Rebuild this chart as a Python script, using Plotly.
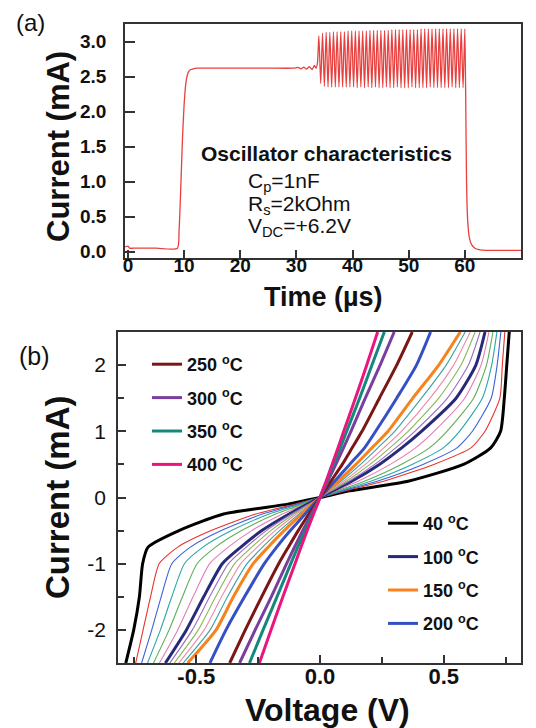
import plotly.graph_objects as go

FONT = "Liberation Sans, Arial, sans-serif"

# ---------------- Panel (a): oscillator current vs time ----------------
t_pre = [-0.5, 0.0, 0.3, 1.0, 5.0, 8.8, 9.1, 9.4, 9.7, 10.0, 10.3, 10.6, 10.9, 11.2, 11.6, 12.2,
         13.0, 15.0, 20.0, 25.0, 29.5, 30.3, 30.8, 31.3, 31.8, 32.3, 32.8, 33.2, 33.5, 33.75]
i_pre = [0.07, 0.08, 0.05, 0.05, 0.05, 0.05, 0.30, 0.90, 1.60, 2.10, 2.40, 2.53, 2.58, 2.60, 2.61, 2.62,
         2.62, 2.62, 2.62, 2.62, 2.62, 2.63, 2.61, 2.635, 2.605, 2.64, 2.60, 2.66, 2.62, 2.70]

osc_peak_t = [34.00, 34.65, 35.30, 35.95, 36.60, 37.25, 37.90, 38.55, 39.20, 39.85, 40.50, 41.15,
              41.80, 42.45, 43.10, 43.75, 44.40, 45.05, 45.70, 46.35, 47.00, 47.65, 48.30, 48.95,
              49.60, 50.25, 50.90, 51.55, 52.20, 52.85, 53.50, 54.15, 54.80, 55.45, 56.10, 56.75,
              57.40, 58.05, 58.70, 59.35, 60.00]
osc_peak_i = [3.08, 3.12, 3.13, 3.13, 3.14, 3.14, 3.14, 3.14, 3.15, 3.15, 3.15, 3.15, 3.15, 3.15,
              3.16, 3.16, 3.16, 3.16, 3.16, 3.16, 3.17, 3.17, 3.17, 3.17, 3.17, 3.17, 3.17, 3.17,
              3.18, 3.18, 3.18, 3.18, 3.18, 3.18, 3.18, 3.18, 3.18, 3.18, 3.18, 3.18, 3.18]
osc_trough_t = [34.33, 34.98, 35.63, 36.28, 36.93, 37.58, 38.23, 38.88, 39.53, 40.18, 40.83, 41.48,
                42.13, 42.78, 43.43, 44.08, 44.73, 45.38, 46.03, 46.68, 47.33, 47.98, 48.63, 49.28,
                49.93, 50.58, 51.23, 51.88, 52.53, 53.18, 53.83, 54.48, 55.13, 55.78, 56.43, 57.08,
                57.73, 58.38, 59.03, 59.68]
osc_trough_i = [2.40, 2.36, 2.35, 2.35, 2.35, 2.35, 2.35, 2.35, 2.35, 2.35, 2.34, 2.35, 2.34, 2.35,
                2.34, 2.35, 2.34, 2.34, 2.35, 2.34, 2.34, 2.35, 2.34, 2.34, 2.34, 2.35, 2.34, 2.34,
                2.34, 2.34, 2.35, 2.34, 2.34, 2.34, 2.34, 2.34, 2.35, 2.34, 2.34, 2.34]

t_post = [60.15, 60.30, 60.50, 60.80, 61.20, 61.80, 62.50, 64.0, 70.0]
i_post = [2.20, 1.00, 0.45, 0.20, 0.10, 0.05, 0.03, 0.02, 0.02]

a_xticks = [0, 10, 20, 30, 40, 50, 60]
a_yticks = [0.0, 0.5, 1.0, 1.5, 2.0, 2.5, 3.0]

# ---------------- Panel (b): I-V curves at several temperatures ----------------
I_pos = [0, 0.1, 0.25, 0.5, 0.75, 1.0, 1.5, 2.0, 2.5]
I_neg = [0, -0.1, -0.25, -0.5, -0.75, -1.0, -1.5, -2.0, -2.5]

temps = [40, 50, 60, 70, 80, 90, 100, 110, 120, 130, 140, 150, 200, 250, 300, 350, 400]

V_pos = {
    40:  [0, 0.12, 0.36, 0.58, 0.69, 0.73, 0.745, 0.755, 0.765],
    50:  [0, 0.10, 0.26, 0.46, 0.61, 0.667, 0.727, 0.737, 0.747],
    60:  [0, 0.09, 0.234, 0.416, 0.554, 0.616, 0.692, 0.716, 0.731],
    70:  [0, 0.08, 0.208, 0.372, 0.498, 0.564, 0.656, 0.694, 0.715],
    80:  [0, 0.07, 0.182, 0.328, 0.442, 0.513, 0.621, 0.673, 0.699],
    90:  [0, 0.06, 0.156, 0.284, 0.386, 0.461, 0.585, 0.651, 0.683],
    100: [0, 0.05, 0.13, 0.24, 0.33, 0.41, 0.55, 0.63, 0.667],
    110: [0, 0.046, 0.119, 0.221, 0.306, 0.383, 0.515, 0.60, 0.647],
    120: [0, 0.042, 0.108, 0.202, 0.282, 0.356, 0.48, 0.57, 0.627],
    130: [0, 0.038, 0.097, 0.183, 0.258, 0.329, 0.445, 0.54, 0.607],
    140: [0, 0.034, 0.086, 0.164, 0.234, 0.302, 0.41, 0.51, 0.587],
    150: [0, 0.03, 0.075, 0.145, 0.21, 0.275, 0.375, 0.48, 0.567],
    200: [0, 0.025, 0.06, 0.12, 0.18, 0.225, 0.31, 0.39, 0.447],
    250: [0, 0.018, 0.045, 0.09, 0.13, 0.17, 0.24, 0.31, 0.373],
    300: [0, 0.013, 0.032, 0.064, 0.095, 0.125, 0.183, 0.243, 0.30],
    350: [0, 0.011, 0.028, 0.055, 0.082, 0.108, 0.16, 0.21, 0.26],
    400: [0, 0.010, 0.025, 0.049, 0.073, 0.096, 0.143, 0.189, 0.233],
}
V_neg = {
    40:  [0, -0.13, -0.39, -0.57, -0.695, -0.717, -0.73, -0.753, -0.785],
    50:  [0, -0.10, -0.26, -0.44, -0.575, -0.65, -0.685, -0.715, -0.745],
    60:  [0, -0.09, -0.233, -0.399, -0.524, -0.599, -0.642, -0.68, -0.721],
    70:  [0, -0.08, -0.206, -0.358, -0.473, -0.548, -0.599, -0.645, -0.697],
    80:  [0, -0.07, -0.179, -0.317, -0.422, -0.497, -0.556, -0.61, -0.673],
    90:  [0, -0.06, -0.152, -0.276, -0.371, -0.446, -0.513, -0.575, -0.649],
    100: [0, -0.05, -0.125, -0.235, -0.32, -0.395, -0.47, -0.54, -0.625],
    110: [0, -0.046, -0.115, -0.217, -0.298, -0.37, -0.446, -0.516, -0.607],
    120: [0, -0.042, -0.105, -0.199, -0.276, -0.345, -0.422, -0.492, -0.589],
    130: [0, -0.038, -0.095, -0.181, -0.254, -0.32, -0.398, -0.468, -0.571],
    140: [0, -0.034, -0.085, -0.163, -0.232, -0.295, -0.374, -0.444, -0.553],
    150: [0, -0.03, -0.075, -0.145, -0.21, -0.27, -0.35, -0.42, -0.535],
    200: [0, -0.025, -0.06, -0.12, -0.175, -0.225, -0.305, -0.38, -0.445],
    250: [0, -0.018, -0.045, -0.088, -0.128, -0.167, -0.236, -0.302, -0.365],
    300: [0, -0.014, -0.035, -0.07, -0.103, -0.135, -0.197, -0.262, -0.325],
    350: [0, -0.012, -0.03, -0.06, -0.09, -0.118, -0.174, -0.23, -0.285],
    400: [0, -0.010, -0.026, -0.052, -0.077, -0.101, -0.15, -0.198, -0.245],
}
colors = {
    40: "#000000", 50: "#e8322c", 60: "#3d62d6", 70: "#2aa6a6", 80: "#5fae55", 90: "#e47bb6",
    100: "#29297a", 110: "#9b6cc0", 120: "#86b95a", 130: "#f08aa8", 140: "#38a3a0",
    150: "#f7821e", 200: "#3550c4", 250: "#7a1616", 300: "#7a3f9e", 350: "#14887a", 400: "#e8167e",
}
thick = {40, 100, 150, 200, 250, 300, 350, 400}
legend_top = [250, 300, 350, 400]
legend_bottom = [40, 100, 150, 200]

b_xticks = [-0.5, 0.0, 0.5]
b_xlabels = ["-0.5", "0.0", "0.5"]
b_yticks = [-2, -1, 0, 1, 2]
b_ylabels = ["-2", "-1", "0", "1", "2"]

# ---------------- Figure ----------------
# The page body has an 8 px margin, so the figure sits at (8, 8) in the 536x728 window.
OFF = 8
W, H = 536 - OFF, 728 - OFF
def px(x):
    return (x - OFF) / W
def py(y):
    return 1 - (y - OFF) / H

fig = go.Figure()

# panel (a) trace
pts = sorted(list(zip(osc_peak_t, osc_peak_i)) + list(zip(osc_trough_t, osc_trough_i)))
t_all = t_pre + [p[0] for p in pts] + t_post
i_all = i_pre + [p[1] for p in pts] + i_post
fig.add_trace(go.Scatter(x=t_all, y=i_all, mode="lines", xaxis="x", yaxis="y",
                         line=dict(color="#e8403f", width=1.3, shape="spline", smoothing=0.6),
                         showlegend=False, hoverinfo="skip"))

# panel (b) traces
for T in temps:
    vx = V_neg[T][::-1][:-1] + V_pos[T]
    iy = I_neg[::-1][:-1] + I_pos
    lab = f"{T} <sup>o</sup>C"
    show = T in legend_top or T in legend_bottom
    fig.add_trace(go.Scatter(
        x=vx, y=iy, mode="lines", xaxis="x2", yaxis="y2", name=lab,
        line=dict(color=colors[T], width=3.0 if T in thick else 1.1, shape="spline", smoothing=0.6),
        showlegend=show, legend=("legend" if T in legend_top else "legend2"),
        legendgroup=str(T), hoverinfo="skip"))

axis_common = dict(showline=True, linecolor="#333333", linewidth=1.5, mirror=True,
                   ticks="inside", tickcolor="#333333", tickwidth=1.5, showgrid=False,
                   zeroline=False, automargin=False)

legend_font = dict(size=18, family=FONT, weight="bold", color="#111111")

fig.update_layout(
    width=W, height=H, margin=dict(l=0, r=0, t=0, b=0, autoexpand=False),
    paper_bgcolor="white", plot_bgcolor="white",
    font=dict(family=FONT, color="#111111"),
    xaxis=dict(domain=[px(125), px(521)], range=[-0.53, 70], anchor="y",
               tickvals=a_xticks, ticklen=8, ticklabelstandoff=-11,
               tickfont=dict(size=19, family=FONT, weight="bold"), **axis_common),
    yaxis=dict(domain=[py(258), py(24)], range=[-0.09, 3.25], anchor="x",
               tickvals=a_yticks, tickformat=".1f", ticklen=10, ticklabelstandoff=13,
               tickfont=dict(size=19, family=FONT, weight="bold"), **axis_common),
    xaxis2=dict(domain=[px(118), px(521)], range=[-0.8165, 0.8125], anchor="y2",
                tickvals=b_xticks, ticktext=b_xlabels, ticklen=8, ticklabelstandoff=-7,
                minor=dict(dtick=0.25, ticks="inside", ticklen=6, tickcolor="#333333", tickwidth=1.5),
                tickfont=dict(size=22, family=FONT, weight="bold"), **axis_common),
    yaxis2=dict(domain=[py(663), py(332)], range=[-2.5, 2.5], anchor="x2",
                tickvals=b_yticks, ticktext=b_ylabels, ticklen=8, ticklabelstandoff=6,
                minor=dict(dtick=0.5, ticks="inside", ticklen=6, tickcolor="#333333", tickwidth=1.5),
                tickfont=dict(size=21, family=FONT), **axis_common),
    legend=dict(x=px(147), y=py(346), xanchor="left", yanchor="top", bgcolor="rgba(0,0,0,0)",
                font=legend_font, tracegroupgap=7, traceorder="grouped"),
    legend2=dict(x=px(383), y=py(505), xanchor="left", yanchor="top", bgcolor="rgba(0,0,0,0)",
                 font=legend_font, tracegroupgap=7, traceorder="grouped"),
)

ann = []
def label(x, y, text, size, bold=False, angle=0, xanchor="center"):
    ann.append(dict(x=px(x), y=py(y), xref="paper", yref="paper", text=text, showarrow=False,
                    xanchor=xanchor, yanchor="middle", textangle=angle,
                    font=dict(size=size, family=FONT, weight=("bold" if bold else "normal"),
                              color="#111111")))

label(30, 22, "(a)", 24)
label(34, 356, "(b)", 25)
label(58, 147, "Current (mA)", 31, bold=True, angle=-90)
label(323, 297, "Time (µs)", 27, bold=True)
label(326, 154, "Oscillator characteristics", 21, bold=True)
label(246, 182, "C<sub>p</sub>=1nF", 21, xanchor="left")
label(246, 205, "R<sub>s</sub>=2kOhm", 21, xanchor="left")
label(246, 227, "V<sub>DC</sub>=+6.2V", 21, xanchor="left")
label(57, 497, "Current (mA)", 33, bold=True, angle=-90)
label(327, 710, "Voltage (V)", 32, bold=True)
fig.update_layout(annotations=ann)

fig.write_html("out.html")
